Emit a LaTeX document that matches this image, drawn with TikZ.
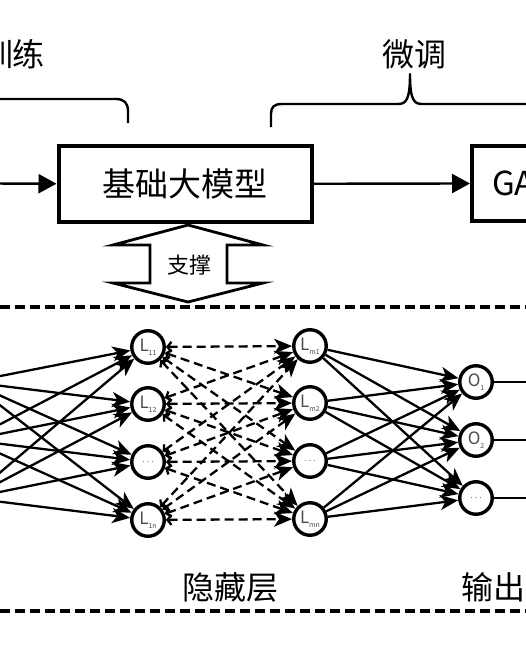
\documentclass[tikz,border=0pt]{standalone}
\usepackage{fontspec}
\setmainfont{Noto Sans CJK SC}
\usetikzlibrary{arrows.meta}
\newcommand\nlab[2]{#1\raisebox{-0.22em}{\fontsize{7pt}{7pt}\selectfont #2}}
\begin{document}
\begin{tikzpicture}[x=1pt,y=-1pt,
  neuron/.style={circle, draw, line width=3.4pt, minimum size=32.5pt, inner sep=0pt, text=black!70, font=\fontsize{17}{17}\selectfont},
  ghost/.style={circle, minimum size=33pt, inner sep=0pt},
  conn/.style={line width=2.3pt, -{Stealth[length=18pt,width=15pt,inset=5pt]}},
  dconn/.style={line width=2.3pt, dash pattern=on 9pt off 5pt, {Straight Barb[length=4pt,width=10pt]}-{Stealth[length=18pt,width=15pt,inset=5pt]}},
  plain/.style={line width=2.3pt},
  sepline/.style={line width=3.2pt, dash pattern=on 10pt off 5pt},
  bigbox/.style={draw, line width=4pt, inner sep=0pt, font=\fontsize{33}{33}\selectfont},
  flow/.style={line width=2.4pt, -{Triangle[length=18pt,width=19pt]}},
  brace/.style={line width=2.4pt, line join=round},
  title/.style={font=\fontsize{32}{32}\selectfont, inner sep=0pt},
  supp/.style={line width=2.8pt, line join=miter}
]
\useasboundingbox (0,0) rectangle (526,645);
\clip (0,0) rectangle (526,645);
\fill[white] (0,0) rectangle (526,645);

% top labels and braces
\node[title] (pre) at (13,54) {训练};
\node[title] (ft) at (414,54) {微调};
\draw[brace] (-60,99) -- (116,99) .. controls (124,99) and (128,103) .. (128,111) -- (128,123);
\draw[brace] (271,127) -- (271,114) .. controls (271,107) and (274,104) .. (282,104) -- (398,104)
  .. controls (406,104) and (410,100) .. (410,74)
  .. controls (410,100) and (414,104) .. (422,104) -- (600,104);

% boxes
\node[bigbox, minimum width=253.5pt, minimum height=75.5pt] (base) at (185.25,183.75) {基础大模型};
\node[bigbox, minimum width=200pt, minimum height=75pt, anchor=west] (ga) at (470,183.5) {};
\node[font=\fontsize{33}{33}\selectfont, inner sep=0pt, anchor=west] (gatext) at (492,183.5) {GA};
\coordinate (inL) at (-10,183.5);
\draw[flow] (inL) -- (base.west);
\draw[flow] (base.east) -- (ga.west);

% support double arrow
\draw[supp] (188,225) -- (263,245) -- (227,245) -- (227,283) -- (263,283) -- (188,302)
  -- (113,283) -- (150,283) -- (150,245) -- (113,245) -- cycle;
\node[font=\fontsize{22}{22}\selectfont, inner sep=0pt] (sup) at (189,265) {支撑};

% separators
\draw[sepline] (0,307) -- (526,307);
\draw[sepline] (0,611) -- (526,611);

% neurons
\node[ghost] (i1) at (-30,382) {};
\node[ghost] (i2) at (-30,440) {};
\node[ghost] (i3) at (-30,498) {};
\node[neuron] (a1) at (148,347) {\nlab{L}{11}};
\node[neuron] (a2) at (148,404) {\nlab{L}{12}};
\node[neuron] (a3) at (148,462) {\fontsize{10}{10}\selectfont$\cdots$};
\node[neuron] (a4) at (148,520) {\nlab{L}{1n}};
\node[neuron] (b1) at (310,346) {\nlab{L}{m1}};
\node[neuron] (b2) at (310,403) {\nlab{L}{m2}};
\node[neuron] (b3) at (310,461) {\fontsize{10}{10}\selectfont$\cdots$};
\node[neuron] (b4) at (310,519) {\nlab{L}{mn}};
\node[neuron] (o1) at (476,382) {\nlab{O}{1}};
\node[neuron] (o2) at (476,440) {\nlab{O}{2}};
\node[neuron] (o3) at (476,498) {\fontsize{10}{10}\selectfont$\cdots$};
\coordinate (e1) at (540,382);
\coordinate (e2) at (540,440);
\coordinate (e3) at (540,498);

\foreach \i in {1,2,3}{\foreach \j in {1,2,3,4}{\draw[conn] (i\i) -- (a\j);}}
\foreach \i in {1,2,3,4}{\foreach \j in {1,2,3,4}{\draw[dconn] (a\i) -- (b\j);}}
\foreach \i in {1,2,3,4}{\foreach \j in {1,2,3}{\draw[conn] (b\i) -- (o\j);}}
\foreach \j in {1,2,3}{\draw[plain] (o\j) -- (e\j);}

% layer labels
\node[title] (lin) at (-46,587) {输入层};
\node[title] (lhid) at (230,587) {隐藏层};
\node[title] (lout) at (509,587) {输出层};
\end{tikzpicture}
\end{document}
